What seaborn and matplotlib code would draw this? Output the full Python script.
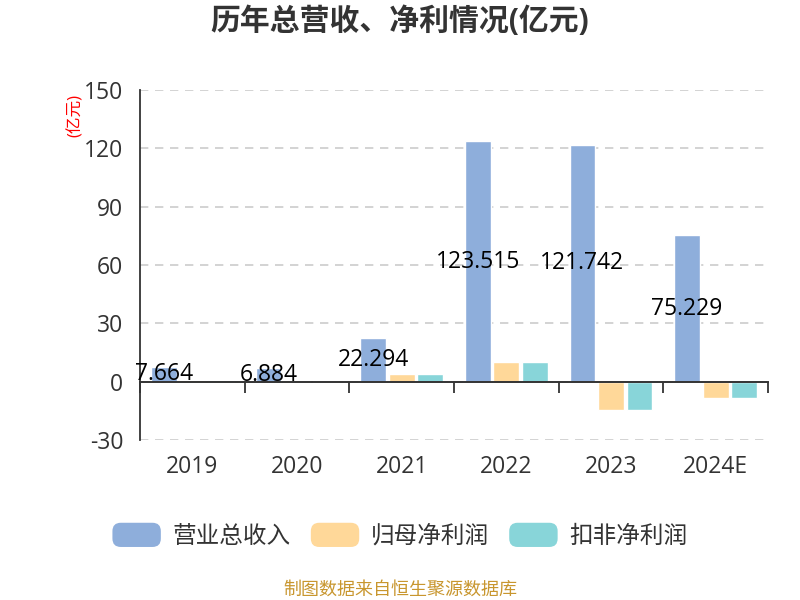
import numpy as np
import pandas as pd
import matplotlib.pyplot as plt
import seaborn as sns
from matplotlib.legend_handler import HandlerPatch
from matplotlib.patches import FancyBboxPatch, Patch

# data (亿元)
years = ['2019', '2020', '2021', '2022', '2023', '2024E']
series_names = ['营业总收入', '归母净利润', '扣非净利润']
revenue = [7.664, 6.884, 22.294, 123.515, 121.742, 75.229]
net_profit = [0.6, 0.5, 3.8, 10.1, -14.4, -8.2]
net_profit_deducted = [0.6, 0.5, 3.8, 9.9, -14.8, -8.4]
colors = ['#8EAEDB', '#FFD899', '#88D5D9']

df = pd.DataFrame({
    'year': years * 3,
    'series': [series_names[0]] * 6 + [series_names[1]] * 6 + [series_names[2]] * 6,
    'value': revenue + net_profit + net_profit_deducted,
})

sns.set_style('white')
plt.rcParams['font.family'] = ['Open Sans', 'Noto Sans CJK SC', 'DejaVu Sans']
plt.rcParams['axes.unicode_minus'] = False

fig = plt.figure(figsize=(8, 6), dpi=100)
ax = fig.add_axes([0.175, 0.2667, 0.785, 0.5833])

sns.barplot(data=df, x='year', y='value', hue='series', hue_order=series_names,
            palette=colors, saturation=1, width=0.82, gap=0.1, ax=ax,
            legend=False, zorder=3)

ax.set_ylim(-30, 150)
ax.set_xlim(-0.5, len(years) - 0.5)
ax.set_yticks(np.arange(-30, 151, 30))
ax.set_xlabel('')
ax.set_ylabel('')
ax.grid(axis='y', color='#cccccc', linestyle=(0, (5, 4)), linewidth=1.2, zorder=0)
ax.grid(axis='x', visible=False)

for side in ['top', 'right', 'bottom']:
    ax.spines[side].set_visible(False)
ax.spines['left'].set_color('#333333')
ax.spines['left'].set_linewidth(1.3)
ax.tick_params(axis='y', direction='out', length=8, width=1.3, color='#333333',
               labelsize=16.5, labelcolor='#333333', pad=4)
ax.tick_params(axis='x', length=0, labelsize=16.5, labelcolor='#333333', pad=11)

# x axis line sits on zero, ticks at category boundaries
zero_pos = 30 / 180
secax = ax.secondary_xaxis(zero_pos)
secax.set_zorder(4)
secax.set_xticks(np.arange(-0.5, len(years), 1.0))
secax.set_xticklabels([])
secax.spines['bottom'].set_visible(True)
secax.spines['bottom'].set_color('#333333')
secax.spines['bottom'].set_linewidth(1.4)
secax.spines['bottom'].set_zorder(4)
secax.tick_params(axis='x', direction='out', length=8, width=1.3, color='#333333')

# value labels on revenue bars
ax.bar_label(ax.containers[0], labels=[f'{v:.3f}' for v in revenue],
             label_type='center', fontsize=16.5, color='black', zorder=5)

# unit label
fig.text(0.094, 0.807, '(亿元)', rotation=90, color='red', fontsize=12,
         ha='center', va='center')

fig.text(0.5, 0.963, '历年总营收、净利情况(亿元)', fontsize=21.5,
         fontweight='bold', color='#333333', ha='center', va='center')


class RoundedHandler(HandlerPatch):
    def create_artists(self, legend, orig_handle, xdescent, ydescent, width,
                       height, fontsize, trans):
        p = FancyBboxPatch((-xdescent + 3, -ydescent + 3), width - 6, height - 6,
                           boxstyle='round,pad=3,rounding_size=6',
                           facecolor=orig_handle.get_facecolor(),
                           edgecolor='none', transform=trans)
        return [p]


handles = [Patch(facecolor=c, label=n) for c, n in zip(colors, series_names)]
fig.legend(handles=handles, loc='center', bbox_to_anchor=(0.5, 0.107), ncol=3,
           frameon=False, fontsize=17, handlelength=2.05, handleheight=1.2,
           handletextpad=0.5, columnspacing=0.85, labelcolor='#333333',
           handler_map={Patch: RoundedHandler()})

fig.text(0.5, 0.0167, '制图数据来自恒生聚源数据库', color='#C8962E', fontsize=13,
         ha='center', va='center')

fig.savefig('out.png', dpi=100)
